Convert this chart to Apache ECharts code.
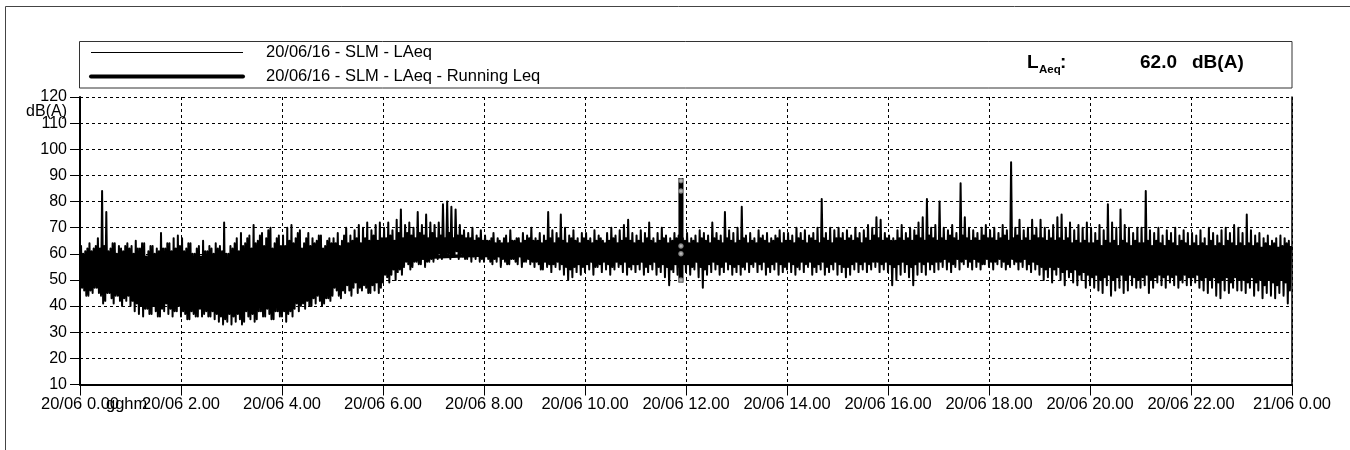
<!DOCTYPE html>
<html>
<head>
<meta charset="utf-8">
<title>20/06/16 - SLM - LAeq</title>
<script src="https://cdn.jsdelivr.net/npm/echarts/dist/echarts.min.js"></script>
<style>
  html, body { margin: 0; padding: 0; background: #fff; }
  #chart { width: 1350px; height: 450px; }
</style>
</head>
<body>
<div id="chart"></div>
<script>
// ---- Measurement data: 20/06/16, sound level meter, A-weighted Leq ----
// Each 2.5-minute block holds the lowest and highest short Leq recorded in it (dB(A)).
// One row per hour (24 blocks), 00:00 ... 23:57:30.
const stepHours = 2.5 / 60;

const highLevels = [
  63,60, 61,62, 64,61, 62,63, 66,62, 84,63, 76,61, 62,64, 64,60, 63,62, 61,63, 64,62,
  63,60, 65,62, 62,64, 64,59, 61,63, 63,60, 62,61, 68,62, 62,64, 64,61, 66,62, 67,63,
  66,61, 62,64, 64,60, 60,62, 63,59, 65,61, 61,63, 62,60, 64,62, 63,61, 72,60, 60,63,
  62,64, 66,61, 68,63, 64,66, 67,62, 71,64, 65,67, 68,63, 66,69, 70,62, 64,66, 67,63,
  67,63, 70,65, 71,64, 66,68, 69,62, 64,66, 68,63, 66,64, 65,67, 67,62, 63,65, 66,64,
  66,64, 68,63, 65,67, 70,64, 67,65, 69,66, 71,64, 70,66, 72,65, 69,67, 71,65, 72,66,
  70,66, 72,67, 69,65, 73,68, 77,66, 71,68, 72,67, 70,66, 76,68, 71,67, 75,66, 72,68,
  71,66, 72,67, 79,66, 80,68, 78,66, 77,67, 71,67, 69,66, 68,66, 70,65, 67,66, 69,65,
  67,65, 65,66, 68,64, 66,65, 64,66, 67,64, 69,65, 65,66, 66,64, 68,65, 67,66, 70,65,
  66,65, 68,64, 67,65, 76,66, 69,64, 68,66, 75,65, 70,64, 67,66, 69,65, 66,64, 68,66,
  68,65, 66,64, 69,65, 67,66, 65,64, 68,65, 70,66, 67,64, 69,65, 71,66, 73,65, 68,64,
  67,65, 69,64, 68,66, 72,65, 66,64, 68,65, 70,66, 67,64, 66,65, 68,66, 67,64, 66,65,
  68,64, 66,65, 67,64, 69,66, 68,65, 67,64, 72,66, 68,65, 67,64, 76,66, 69,65, 68,64,
  70,65, 78,66, 67,64, 68,65, 66,64, 69,66, 67,65, 68,64, 66,65, 67,66, 69,64, 68,65,
  68,65, 67,64, 70,66, 68,65, 69,64, 67,66, 68,65, 70,64, 81,66, 68,65, 70,64, 69,66,
  70,66, 68,65, 69,66, 67,65, 70,66, 68,64, 69,66, 71,65, 70,67, 74,66, 73,65, 68,66,
  67,65, 66,65, 69,66, 71,65, 68,66, 70,65, 69,67, 72,66, 74,65, 81,67, 70,66, 71,65,
  80,66, 70,65, 69,67, 71,66, 68,65, 87,67, 74,66, 70,65, 69,66, 68,65, 70,67, 71,66,
  69,66, 70,65, 68,66, 71,67, 69,65, 95,66, 70,67, 73,65, 69,66, 70,65, 73,67, 70,66,
  73,66, 70,65, 69,66, 71,65, 74,66, 75,65, 70,66, 72,64, 69,65, 71,64, 70,65, 72,64,
  70,64, 68,65, 71,63, 69,65, 79,64, 72,65, 70,63, 77,65, 71,64, 70,63, 68,65, 70,64,
  70,64, 84,65, 69,63, 68,65, 70,64, 67,63, 69,65, 68,64, 70,63, 67,65, 69,64, 68,63,
  68,64, 67,63, 69,64, 66,63, 70,65, 68,63, 67,64, 69,63, 70,65, 68,64, 71,63, 70,64,
  68,63, 75,64, 69,63, 67,64, 68,62, 66,64, 67,63, 65,64, 66,62, 67,63, 66,64, 65,63
];

const lowLevels = [
  45,47, 46,44, 44,46, 45,47, 47,45, 44,41, 42,45, 45,43, 41,44, 44,42, 40,43, 42,44,
  40,42, 38,41, 37,40, 36,39, 39,37, 37,40, 38,36, 36,39, 38,41, 37,39, 36,38, 38,40,
  36,38, 37,35, 35,38, 37,36, 36,39, 36,37, 38,36, 36,38, 35,37, 34,36, 33,35, 34,37,
  33,36, 34,37, 35,33, 34,38, 36,35, 37,34, 35,38, 38,36, 36,39, 37,35, 35,38, 38,36,
  36,38, 34,37, 38,36, 39,41, 38,40, 41,39, 42,40, 40,43, 41,44, 42,40, 41,43, 43,42,
  44,47, 46,44, 43,46, 45,48, 46,44, 47,49, 45,47, 46,48, 47,45, 45,48, 46,49, 45,47,
  49,52, 51,49, 52,54, 50,53, 54,52, 55,57, 56,54, 55,57, 57,56, 56,58, 55,57, 57,58,
  57,59, 58,60, 58,59, 59,60, 58,59, 59,61, 58,60, 59,58, 58,60, 57,59, 58,60, 57,58,
  57,59, 58,57, 56,58, 57,59, 55,58, 57,56, 56,58, 58,57, 56,59, 55,57, 57,58, 56,57,
  55,57, 56,54, 54,57, 55,56, 53,56, 55,57, 54,56, 52,55, 50,54, 51,55, 53,56, 52,55,
  53,56, 54,57, 52,55, 55,56, 53,57, 54,56, 52,55, 54,57, 55,56, 53,57, 52,55, 54,56,
  53,56, 54,57, 52,55, 53,56, 54,57, 52,55, 53,56, 51,55, 48,54, 53,56, 52,55, 53,56,
  53,56, 52,55, 54,57, 51,55, 47,54, 52,56, 53,57, 54,56, 52,55, 53,57, 54,56, 52,55,
  53,56, 52,55, 54,57, 53,56, 55,57, 53,56, 54,57, 52,55, 53,56, 54,57, 52,56, 53,55,
  54,57, 53,56, 52,55, 54,57, 53,56, 55,57, 52,55, 53,56, 54,57, 52,55, 53,56, 54,57,
  52,56, 53,55, 51,55, 52,56, 54,57, 53,56, 54,57, 53,56, 54,57, 55,57, 53,56, 54,57,
  53,56, 48,55, 50,56, 52,57, 53,56, 51,55, 48,56, 52,57, 53,56, 52,57, 54,56, 53,57,
  54,57, 55,58, 54,57, 53,56, 55,58, 54,57, 56,58, 55,57, 54,58, 55,57, 54,56, 56,58,
  55,57, 54,57, 56,58, 55,57, 54,56, 55,58, 56,57, 54,57, 55,58, 54,56, 53,57, 54,56,
  52,55, 50,54, 51,55, 49,54, 52,55, 50,53, 48,54, 51,53, 49,54, 48,52, 50,53, 47,52,
  48,51, 47,52, 46,50, 45,51, 48,52, 44,50, 46,51, 47,52, 45,50, 46,52, 48,51, 47,50,
  47,51, 48,52, 45,50, 47,51, 49,52, 48,51, 47,52, 49,51, 48,52, 47,50, 49,52, 48,51,
  48,51, 49,52, 47,50, 46,51, 45,50, 47,51, 44,49, 43,50, 46,51, 45,49, 47,51, 46,50,
  46,50, 45,49, 47,51, 44,49, 46,50, 43,48, 45,50, 44,49, 43,48, 45,50, 44,49, 41,46
];

// Running Leq, read at every full hour 0 ... 24 h
const runningHours = [0, 1, 2, 3, 4, 5, 6, 7, 8, 9, 10, 11, 12, 13, 14, 15, 16, 17, 18, 19, 20, 21, 22, 23, 24];
const runningLeq = [55.0, 57.5, 56.5, 55.8, 55.4, 56.0, 57.3, 58.8, 59.5, 60.1, 60.5, 61.0, 61.4,
                    61.5, 61.7, 61.8, 62.0, 62.2, 62.4, 62.4, 62.3, 62.2, 62.1, 62.0, 62.0];
const overallLAeq = 62.0;

// Marked event just before noon: span [start h, end h, min dB, max dB] and flagged samples
const markedEvent = [11.85, 11.95, 49, 89];
const markedSamples = [[11.9, 88], [11.9, 84], [11.9, 63], [11.9, 60], [11.9, 50]];

// Axis ticks
const xTickLabels = ['20/06 0.00', '20/06 2.00', '20/06 4.00', '20/06 6.00', '20/06 8.00',
  '20/06 10.00', '20/06 12.00', '20/06 14.00', '20/06 16.00', '20/06 18.00',
  '20/06 20.00', '20/06 22.00', '21/06 0.00'];
const seriesNames = ['20/06/16 - SLM - LAeq', '20/06/16 - SLM - LAeq - Running Leq'];

// ---- Build the plotted series ----
// Each block is drawn as its low value followed by its high value, so the trace
// sweeps through the full range recorded in the block.
const levelTrace = [];
for (let i = 0; i < lowLevels.length; i++) {
  levelTrace.push([i * stepHours, lowLevels[i]]);
  levelTrace.push([(i + 0.5) * stepHours, highLevels[i]]);
}
const runningTrace = runningHours.map((h, i) => [h, runningLeq[i]]);

const FONT = '"Liberation Sans", Arial, Helvetica, sans-serif';
const dashed = { color: '#000', width: 1, type: [3, 3] };

const chart = echarts.init(document.getElementById('chart'), null, { renderer: 'canvas' });

chart.setOption({
  animation: false,
  backgroundColor: '#fff',
  textStyle: { fontFamily: FONT, color: '#000' },
  grid: { left: 80, right: 58, top: 97, bottom: 65.5, containLabel: false },
  xAxis: {
    type: 'value', min: 0, max: 24, interval: 2,
    axisLine: { show: true, onZero: false, lineStyle: { color: '#000', width: 2 } },
    axisTick: { show: true, length: 11, lineStyle: { color: '#000', width: 1 } },
    axisLabel: {
      color: '#000', fontSize: 16.5, fontFamily: FONT, margin: 11,
      formatter: v => xTickLabels[Math.round(v / 2)]
    },
    splitLine: { show: true, lineStyle: dashed }
  },
  yAxis: [
    {
      type: 'value', min: 10, max: 120, interval: 10,
      axisLine: { show: true, onZero: false, lineStyle: { color: '#000', width: 2 } },
      axisTick: { show: true, length: 10, lineStyle: { color: '#000', width: 1 } },
      axisLabel: { color: '#000', fontSize: 16, fontFamily: FONT, margin: 13 },
      splitLine: { show: true, lineStyle: dashed }
    },
    {
      type: 'value', min: 10, max: 120, interval: 10, position: 'right',
      axisLine: { show: true, onZero: false, lineStyle: { color: '#000', width: 1.5 } },
      axisTick: { show: false }, axisLabel: { show: false }, splitLine: { show: false }
    }
  ],
  series: [
    {
      name: seriesNames[1], type: 'line', data: runningTrace,
      showSymbol: false, symbol: 'none', z: 2,
      lineStyle: { color: '#000', width: 3.5 }
    },
    {
      name: seriesNames[0], type: 'line', data: levelTrace,
      showSymbol: false, symbol: 'none', z: 4,
      lineStyle: { color: '#000', width: 2, join: 'round' }
    },
    {
      type: 'custom', z: 5,
      data: [markedEvent],
      encode: { x: [0, 1], y: [2, 3] },
      renderItem: (params, api) => {
        const top = api.coord([api.value(0), api.value(3)]);
        const bottom = api.coord([api.value(1), api.value(2)]);
        return {
          type: 'rect',
          shape: { x: top[0], y: top[1], width: bottom[0] - top[0], height: bottom[1] - top[1] },
          style: { fill: '#000' }
        };
      }
    },
    {
      type: 'scatter', z: 6, data: markedSamples,
      symbol: 'emptyCircle', symbolSize: 3.5,
      itemStyle: { color: '#9a9a9a', borderWidth: 1 }
    }
  ],
  graphic: [
    // page frame
    { type: 'rect', shape: { x: 5.5, y: 6.5, width: 1400, height: 500 },
      style: { fill: null, stroke: '#444', lineWidth: 1 }, silent: true },
    // legend box
    { type: 'rect', shape: { x: 79.5, y: 41.5, width: 1212.5, height: 46.5 },
      style: { fill: '#fff', stroke: '#333', lineWidth: 1 }, silent: true },
    { type: 'line', shape: { x1: 91, y1: 52.5, x2: 243, y2: 52.5 },
      style: { stroke: '#000', lineWidth: 1.2 } },
    { type: 'line', shape: { x1: 91, y1: 76.5, x2: 243, y2: 76.5 },
      style: { stroke: '#000', lineWidth: 4, lineCap: 'round' } },
    { type: 'text', x: 266, y: 52.5,
      style: { text: seriesNames[0], font: '16.5px ' + FONT, fill: '#000', align: 'left', verticalAlign: 'middle' } },
    { type: 'text', x: 266, y: 76.5,
      style: { text: seriesNames[1], font: '16.5px ' + FONT, fill: '#000', align: 'left', verticalAlign: 'middle' } },
    // overall level
    { type: 'text', x: 1027, y: 63,
      style: { text: 'L', font: 'bold 19px ' + FONT, fill: '#000', align: 'left', verticalAlign: 'middle' } },
    { type: 'text', x: 1039, y: 70,
      style: { text: 'Aeq', font: 'bold 11.5px ' + FONT, fill: '#000', align: 'left', verticalAlign: 'middle' } },
    { type: 'text', x: 1060, y: 63,
      style: { text: ':', font: 'bold 19px ' + FONT, fill: '#000', align: 'left', verticalAlign: 'middle' } },
    { type: 'text', x: 1140, y: 63,
      style: { text: overallLAeq.toFixed(1), font: 'bold 19px ' + FONT, fill: '#000', align: 'left', verticalAlign: 'middle' } },
    { type: 'text', x: 1192, y: 63,
      style: { text: 'dB(A)', font: 'bold 19px ' + FONT, fill: '#000', align: 'left', verticalAlign: 'middle' } },
    // y unit
    { type: 'text', x: 67, y: 112,
      style: { text: 'dB(A)', font: '16px ' + FONT, fill: '#000', align: 'right', verticalAlign: 'middle' } },
    // time format hint under the axis start
    { type: 'text', x: 106, y: 404,
      style: { text: 'gghm', font: '16.5px ' + FONT, fill: '#000', align: 'left', verticalAlign: 'middle' } }
  ]
});
</script>
</body>
</html>
